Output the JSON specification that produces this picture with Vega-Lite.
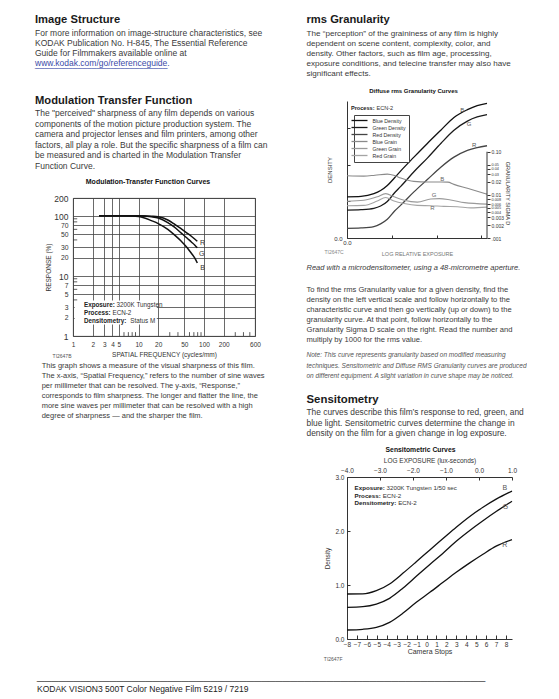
{
  "$schema": "https://vega.github.io/schema/vega-lite/v6.json",
  "background": "white",
  "padding": {"left": 35, "top": 13, "right": 0, "bottom": 0},
  "config": {
    "view": {"stroke": null},
    "font": "Liberation Sans",
    "title": {"font": "Liberation Sans", "subtitleFont": "Liberation Sans", "anchor": "start", "frame": "group", "color": "#1a1a1a", "subtitleColor": "#3a3a3a", "fontWeight": "normal"},
    "axis": {"labelFont": "Liberation Sans", "titleFont": "Liberation Sans", "labelColor": "#333", "titleColor": "#333", "domainColor": "#333", "tickColor": "#333", "titleFontWeight": "normal", "labelFontSize": 6.5, "titleFontSize": 6.5, "labelFlush": false, "labelOverlap": false, "labelBound": false, "grid": false},
    "text": {"font": "Liberation Sans"}
  },
  "datasets": {
    "mtf": [
      {"ch": "B", "f": 2.5, "r": 101}, {"ch": "B", "f": 5, "r": 101}, {"ch": "B", "f": 8, "r": 100}, {"ch": "B", "f": 10, "r": 98}, {"ch": "B", "f": 12, "r": 94}, {"ch": "B", "f": 15.7, "r": 84}, {"ch": "B", "f": 20, "r": 75}, {"ch": "B", "f": 28, "r": 60}, {"ch": "B", "f": 35, "r": 49}, {"ch": "B", "f": 45, "r": 38}, {"ch": "B", "f": 55, "r": 30}, {"ch": "B", "f": 64, "r": 24}, {"ch": "B", "f": 72, "r": 20}, {"ch": "B", "f": 79, "r": 16.5},
      {"ch": "G", "f": 2.5, "r": 101}, {"ch": "G", "f": 10, "r": 101}, {"ch": "G", "f": 15.7, "r": 97.5}, {"ch": "G", "f": 20, "r": 93}, {"ch": "G", "f": 28, "r": 78}, {"ch": "G", "f": 35, "r": 66}, {"ch": "G", "f": 45, "r": 52}, {"ch": "G", "f": 55, "r": 43}, {"ch": "G", "f": 64, "r": 37}, {"ch": "G", "f": 72, "r": 33}, {"ch": "G", "f": 79, "r": 29.5},
      {"ch": "R", "f": 2.5, "r": 101}, {"ch": "R", "f": 10, "r": 101.5}, {"ch": "R", "f": 15.7, "r": 99.5}, {"ch": "R", "f": 20, "r": 97}, {"ch": "R", "f": 28, "r": 86}, {"ch": "R", "f": 35, "r": 74}, {"ch": "R", "f": 45, "r": 61}, {"ch": "R", "f": 55, "r": 52}, {"ch": "R", "f": 64, "r": 46}, {"ch": "R", "f": 72, "r": 41.5}, {"ch": "R", "f": 79, "r": 38}
    ],
    "mtfLab": [{"f": 95, "r": 36, "t": "R"}, {"f": 92, "r": 23.6, "t": "G"}, {"f": 95, "r": 13.6, "t": "B"}],
    "mtfMinorX": [{"v": 6}, {"v": 7}, {"v": 8}, {"v": 9}, {"v": 30}, {"v": 40}, {"v": 60}, {"v": 70}, {"v": 80}, {"v": 90}, {"v": 300}, {"v": 400}, {"v": 500}],
    "mtfMinorY": [{"v": 4}, {"v": 6}, {"v": 8}, {"v": 9}, {"v": 40}, {"v": 60}, {"v": 80}, {"v": 90}],
    "mtfNote": [
      {"k": "Exposure:", "v": "3200K Tungsten", "f": 1.47, "vf": 4.62, "r": 3.28},
      {"k": "Process:", "v": "ECN-2", "f": 1.47, "vf": 4.0, "r": 2.42},
      {"k": "Densitometry:", "v": "Status M", "f": 1.47, "vf": 7.5, "r": 1.78}
    ],
    "dens": [
      {"s": "Blue Density", "e": 0, "d": 0.9}, {"s": "Blue Density", "e": 0.5, "d": 0.91}, {"s": "Blue Density", "e": 0.96, "d": 0.97}, {"s": "Blue Density", "e": 1.2, "d": 1.04}, {"s": "Blue Density", "e": 1.44, "d": 1.15}, {"s": "Blue Density", "e": 1.7, "d": 1.32}, {"s": "Blue Density", "e": 1.92, "d": 1.47}, {"s": "Blue Density", "e": 2.39, "d": 1.77}, {"s": "Blue Density", "e": 2.87, "d": 2.07}, {"s": "Blue Density", "e": 3.35, "d": 2.36}, {"s": "Blue Density", "e": 3.82, "d": 2.64}, {"s": "Blue Density", "e": 4.3, "d": 2.81}, {"s": "Blue Density", "e": 4.65, "d": 2.9}, {"s": "Blue Density", "e": 5, "d": 2.95},
      {"s": "Green Density", "e": 0, "d": 0.61}, {"s": "Green Density", "e": 0.5, "d": 0.62}, {"s": "Green Density", "e": 0.96, "d": 0.65}, {"s": "Green Density", "e": 1.2, "d": 0.7}, {"s": "Green Density", "e": 1.44, "d": 0.8}, {"s": "Green Density", "e": 1.7, "d": 0.99}, {"s": "Green Density", "e": 1.92, "d": 1.13}, {"s": "Green Density", "e": 2.39, "d": 1.45}, {"s": "Green Density", "e": 2.87, "d": 1.75}, {"s": "Green Density", "e": 3.35, "d": 2.07}, {"s": "Green Density", "e": 3.82, "d": 2.36}, {"s": "Green Density", "e": 4.3, "d": 2.56}, {"s": "Green Density", "e": 4.65, "d": 2.65}, {"s": "Green Density", "e": 5, "d": 2.7},
      {"s": "Red Density", "e": 0, "d": 0.21}, {"s": "Red Density", "e": 0.5, "d": 0.22}, {"s": "Red Density", "e": 0.96, "d": 0.25}, {"s": "Red Density", "e": 1.2, "d": 0.31}, {"s": "Red Density", "e": 1.44, "d": 0.41}, {"s": "Red Density", "e": 1.7, "d": 0.59}, {"s": "Red Density", "e": 1.92, "d": 0.72}, {"s": "Red Density", "e": 2.39, "d": 1.01}, {"s": "Red Density", "e": 2.87, "d": 1.28}, {"s": "Red Density", "e": 3.35, "d": 1.55}, {"s": "Red Density", "e": 3.82, "d": 1.77}, {"s": "Red Density", "e": 4.3, "d": 1.92}, {"s": "Red Density", "e": 4.65, "d": 1.98}, {"s": "Red Density", "e": 5, "d": 2.02}
    ],
    "grain": [
      {"s": "Blue Grain", "e": 0, "g": 0.0277}, {"s": "Blue Grain", "e": 0.6, "g": 0.0272}, {"s": "Blue Grain", "e": 1.0, "g": 0.0285}, {"s": "Blue Grain", "e": 1.44, "g": 0.0303}, {"s": "Blue Grain", "e": 1.7, "g": 0.028}, {"s": "Blue Grain", "e": 1.92, "g": 0.0245}, {"s": "Blue Grain", "e": 2.39, "g": 0.0205}, {"s": "Blue Grain", "e": 2.87, "g": 0.0198}, {"s": "Blue Grain", "e": 3.35, "g": 0.0198}, {"s": "Blue Grain", "e": 3.6, "g": 0.0197}, {"s": "Blue Grain", "e": 3.82, "g": 0.0175}, {"s": "Blue Grain", "e": 4.3, "g": 0.0142}, {"s": "Blue Grain", "e": 5, "g": 0.0104},
      {"s": "Green Grain", "e": 0, "g": 0.0071}, {"s": "Green Grain", "e": 0.6, "g": 0.0075}, {"s": "Green Grain", "e": 1.08, "g": 0.009}, {"s": "Green Grain", "e": 1.38, "g": 0.0107}, {"s": "Green Grain", "e": 1.68, "g": 0.009}, {"s": "Green Grain", "e": 2.04, "g": 0.0075}, {"s": "Green Grain", "e": 2.51, "g": 0.0068}, {"s": "Green Grain", "e": 2.99, "g": 0.008}, {"s": "Green Grain", "e": 3.3, "g": 0.0082}, {"s": "Green Grain", "e": 3.7, "g": 0.0076}, {"s": "Green Grain", "e": 4.2, "g": 0.0066}, {"s": "Green Grain", "e": 5, "g": 0.0061},
      {"s": "Red Grain", "e": 0, "g": 0.0056}, {"s": "Red Grain", "e": 0.6, "g": 0.0057}, {"s": "Red Grain", "e": 1.08, "g": 0.0072}, {"s": "Red Grain", "e": 1.38, "g": 0.0087}, {"s": "Red Grain", "e": 1.68, "g": 0.0072}, {"s": "Red Grain", "e": 2.04, "g": 0.0063}, {"s": "Red Grain", "e": 2.51, "g": 0.0057}, {"s": "Red Grain", "e": 2.99, "g": 0.0056}, {"s": "Red Grain", "e": 3.46, "g": 0.0054}, {"s": "Red Grain", "e": 3.94, "g": 0.0053}, {"s": "Red Grain", "e": 4.42, "g": 0.005}, {"s": "Red Grain", "e": 5, "g": 0.0052}
    ],
    "densLab": [{"e": 4.12, "d": 2.81, "t": "B"}, {"e": 4.36, "d": 2.5, "t": "G"}, {"e": 4.54, "d": 2.03, "t": "R"}],
    "grainLab": [{"e": 3.4, "g": 0.0239, "t": "B"}, {"e": 3.11, "g": 0.00984, "t": "G"}, {"e": 3.05, "g": 0.005, "t": "R"}],
    "granNote": [{"k": "Process:", "v": "ECN-2", "e": 0.14, "ve": 1.05, "d": 2.85}],
    "sens": [
      {"c": "B", "e": -4, "d": 0.833}, {"c": "B", "e": -3.52, "d": 0.835}, {"c": "B", "e": -3.11, "d": 0.895}, {"c": "B", "e": -2.71, "d": 1.02}, {"c": "B", "e": -2.3, "d": 1.22}, {"c": "B", "e": -1.9, "d": 1.43}, {"c": "B", "e": -1.49, "d": 1.65}, {"c": "B", "e": -1.09, "d": 1.86}, {"c": "B", "e": -0.69, "d": 2.07}, {"c": "B", "e": -0.28, "d": 2.27}, {"c": "B", "e": 0.12, "d": 2.44}, {"c": "B", "e": 0.52, "d": 2.59}, {"c": "B", "e": 1.0, "d": 2.74},
      {"c": "G", "e": -4, "d": 0.587}, {"c": "G", "e": -3.52, "d": 0.6}, {"c": "G", "e": -3.11, "d": 0.648}, {"c": "G", "e": -2.71, "d": 0.753}, {"c": "G", "e": -2.3, "d": 0.944}, {"c": "G", "e": -1.9, "d": 1.16}, {"c": "G", "e": -1.49, "d": 1.38}, {"c": "G", "e": -1.09, "d": 1.59}, {"c": "G", "e": -0.69, "d": 1.81}, {"c": "G", "e": -0.28, "d": 2.01}, {"c": "G", "e": 0.12, "d": 2.19}, {"c": "G", "e": 0.52, "d": 2.36}, {"c": "G", "e": 1.0, "d": 2.55},
      {"c": "R", "e": -4, "d": 0.167}, {"c": "R", "e": -3.52, "d": 0.18}, {"c": "R", "e": -3.11, "d": 0.216}, {"c": "R", "e": -2.71, "d": 0.309}, {"c": "R", "e": -2.3, "d": 0.48}, {"c": "R", "e": -1.9, "d": 0.68}, {"c": "R", "e": -1.49, "d": 0.864}, {"c": "R", "e": -1.09, "d": 1.05}, {"c": "R", "e": -0.69, "d": 1.235}, {"c": "R", "e": -0.28, "d": 1.41}, {"c": "R", "e": 0.12, "d": 1.57}, {"c": "R", "e": 0.52, "d": 1.72}, {"c": "R", "e": 1.0, "d": 1.84}
    ],
    "sensLab": [{"e": 0.78, "d": 2.79, "t": "B"}, {"e": 0.8, "d": 2.44, "t": "G"}, {"e": 0.78, "d": 1.74, "t": "R"}],
    "sensNote": [
      {"k": "Exposure:", "v": "3200K Tungsten 1/50 sec", "e": -3.77, "ve": -2.8, "d": 2.79},
      {"k": "Process:", "v": "ECN-2", "e": -3.77, "ve": -2.92, "d": 2.65},
      {"k": "Densitometry:", "v": "ECN-2", "e": -3.77, "ve": -2.45, "d": 2.51}
    ]
  },
  "vconcat": [
    {
      "hconcat": [
        {
          "spacing": 0,
          "vconcat": [
            {"width": 1, "height": 1, "data": {"values": []}, "mark": "point",
             "title": {"text": "Image Structure", "fontSize": 11.2, "fontWeight": "bold", "dx": -38, "offset": 3}},
            {"width": 1, "height": 1, "data": {"values": []}, "mark": "point",
             "title": {"text": ["For more information on image-structure characteristics, see", "KODAK Publication No. H-845, The Essential Reference", "Guide for Filmmakers available online at"], "fontSize": 8.5, "lineHeight": 10, "color": "#3a3a3a", "dx": -38, "offset": 0.5}},
            {"width": 1, "height": 1, "data": {"values": []}, "mark": "point",
             "title": {"text": "www.kodak.com/go/referenceguide.", "subtitle": "____________________________", "fontSize": 8.5, "color": "#3b4ba8", "subtitleColor": "#3b4ba8", "subtitleFontSize": 8.5, "subtitlePadding": -8.3, "dx": -38, "offset": 25}},
            {"width": 1, "height": 1, "data": {"values": []}, "mark": "point",
             "title": {"text": "Modulation Transfer Function", "subtitle": ["The \"perceived\" sharpness of any film depends on various", "components of the motion picture production system. The", "camera and projector lenses and film printers, among other", "factors, all play a role. But the specific sharpness of a film can", "be measured and is charted in the Modulation Transfer", "Function Curve."], "fontSize": 11.2, "fontWeight": "bold", "subtitleFontSize": 8.5, "subtitleLineHeight": 10.5, "subtitlePadding": 3, "dx": -38, "offset": 6}},
            {
              "width": 182,
              "height": 138,
              "view": {"stroke": "#333", "strokeWidth": 0.9},
              "title": {"text": "Modulation-Transfer Function Curves", "fontSize": 7, "fontWeight": "bold", "color": "#111", "anchor": "middle", "dx": -16, "offset": 9},
              "layer": [
                {
                  "data": {"values": [{}]},
                  "mark": {"type": "rect", "fill": "white"},
                  "encoding": {
                    "x": {"datum": 1.06, "type": "quantitative"},
                    "x2": {"datum": 19},
                    "y": {"datum": 1.55, "type": "quantitative"},
                    "y2": {"datum": 3.9}
                  }
                },
                {
                  "data": {"name": "mtfMinorX"},
                  "mark": {"type": "rule", "color": "#333", "strokeWidth": 0.8},
                  "encoding": {
                    "x": {"field": "v", "type": "quantitative"},
                    "y": {"datum": 1, "type": "quantitative"},
                    "y2": {"datum": 1.16}
                  }
                },
                {
                  "data": {"name": "mtfMinorY"},
                  "mark": {"type": "rule", "color": "#333", "strokeWidth": 0.8},
                  "encoding": {
                    "y": {"field": "v", "type": "quantitative"},
                    "x": {"datum": 1, "type": "quantitative"},
                    "x2": {"datum": 1.16}
                  }
                },
                {
                  "data": {"name": "mtf"},
                  "mark": {"type": "line", "color": "#111", "strokeWidth": 1.5, "interpolate": "monotone"},
                  "encoding": {
                    "x": {"field": "f", "type": "quantitative", "scale": {"type": "log", "domain": [1, 600], "nice": false}, "axis": {"values": [1, 2, 3, 4, 5, 10, 20, 50, 100, 200, 600], "grid": true, "gridColor": "#444", "gridWidth": 0.8, "tickSize": 0, "domain": false, "labelPadding": 5, "labelOverlap": false, "title": "SPATIAL FREQUENCY (cycles/mm)", "titlePadding": 4}},
                    "y": {"field": "r", "type": "quantitative", "scale": {"type": "log", "domain": [1, 200], "nice": false}, "axis": {"values": [1, 2, 3, 5, 7, 10, 20, 30, 50, 70, 100, 200], "grid": true, "gridColor": "#444", "gridWidth": 0.8, "tickSize": 0, "domain": false, "labelPadding": 5, "labelOverlap": false, "labelFontSize": {"condition": {"test": "datum.value == 1 || datum.value == 10 || datum.value == 100 || datum.value == 200", "value": 8.5}, "value": 6.8}, "title": "RESPONSE (%)", "titlePadding": 2}},
                    "detail": {"field": "ch"}
                  }
                },
                {
                  "data": {"name": "mtfLab"},
                  "mark": {"type": "text", "fontSize": 7, "color": "#333"},
                  "encoding": {
                    "x": {"field": "f", "type": "quantitative"},
                    "y": {"field": "r", "type": "quantitative"},
                    "text": {"field": "t"}
                  }
                },
                {
                  "data": {"name": "mtfNote"},
                  "mark": {"type": "text", "fontSize": 6.3, "fontWeight": "bold", "align": "left", "color": "#222"},
                  "encoding": {
                    "x": {"field": "f", "type": "quantitative"},
                    "y": {"field": "r", "type": "quantitative"},
                    "text": {"field": "k"}
                  }
                },
                {
                  "data": {"name": "mtfNote"},
                  "mark": {"type": "text", "fontSize": 6.3, "align": "left", "color": "#333"},
                  "encoding": {
                    "x": {"field": "vf", "type": "quantitative"},
                    "y": {"field": "r", "type": "quantitative"},
                    "text": {"field": "v"}
                  }
                },
                {
                  "data": {"values": [{}]},
                  "mark": {"type": "text", "fontSize": 5, "color": "#555"},
                  "encoding": {
                    "x": {"datum": 0.68, "type": "quantitative"},
                    "y": {"datum": 0.465, "type": "quantitative"},
                    "text": {"value": "TI2647B"}
                  }
                }
              ]
            },
            {"width": 1, "height": 1, "data": {"values": []}, "mark": "point",
             "title": {"text": ["This graph shows a measure of the visual sharpness of this film.", "The x-axis, “Spatial Frequency,” refers to the number of sine waves", "per millimeter that can be resolved. The y-axis, “Response,”", "corresponds to film sharpness. The longer and flatter the line, the", "more sine waves per millimeter that can be resolved with a high", "degree of sharpness — and the sharper the film."], "orient": "bottom", "fontSize": 7.5, "color": "#3a3a3a", "lineHeight": 9.9, "offset": 1, "dx": -31.3}}
          ]
        },
        {
          "spacing": 0,
          "resolve": {"scale": {"color": "independent"}, "legend": {"color": "independent"}},
          "vconcat": [
            {"width": 1, "height": 1, "data": {"values": []}, "mark": "point",
             "title": {"text": "rms Granularity", "fontSize": 11.2, "fontWeight": "bold", "dx": -40.5, "offset": 3}},
            {"width": 1, "height": 1, "data": {"values": []}, "mark": "point",
             "title": {"text": ["The “perception” of the graininess of any film is highly", "dependent on scene content, complexity, color, and", "density. Other factors, such as film age, processing,", "exposure conditions, and telecine transfer may also have", "significant effects."], "fontSize": 8.1, "lineHeight": 10, "color": "#3a3a3a", "dx": -40.5, "offset": 8.4}},
            {
              "width": 140,
              "height": 137,
              "title": {"text": "Diffuse rms Granularity Curves", "fontSize": 6, "fontWeight": "bold", "color": "#111", "anchor": "middle", "offset": 7, "dx": -3.5},
              "layer": [
                {
                  "layer": [
                    {
                      "data": {"name": "dens"},
                      "mark": {"type": "line", "strokeWidth": 1.3, "interpolate": "monotone"},
                      "encoding": {
                        "x": {"field": "e", "type": "quantitative", "scale": {"domain": [0, 5], "nice": false}, "axis": {"values": [0, 0.2, 0.4, 0.6, 0.8, 1, 1.2, 1.4, 1.6, 1.8, 2, 2.2, 2.4, 2.6, 2.8, 3, 3.2, 3.4, 3.6, 3.8, 4, 4.2, 4.4, 4.6, 4.8, 5], "labelExpr": "datum.value % 1 === 0 ? format(datum.value, '.1f') : ''", "labelOverlap": false, "tickSize": -3, "labelFontSize": 6, "labelPadding": 4, "title": "LOG RELATIVE EXPOSURE", "titleFontSize": 5.5, "titleColor": "#777", "titlePadding": 6}},
                        "y": {"field": "d", "type": "quantitative", "scale": {"domain": [0, 3], "nice": false}, "axis": {"values": [0, 0.1, 0.2, 0.3, 0.4, 0.5, 0.6, 0.7, 0.8, 0.9, 1, 1.1, 1.2, 1.3, 1.4, 1.5, 1.6, 1.7, 1.8, 1.9, 2, 2.1, 2.2, 2.3, 2.4, 2.5, 2.6, 2.7, 2.8, 2.9, 3], "labelExpr": "datum.value % 1 === 0 ? format(datum.value, '.1f') : ''", "labelOverlap": false, "tickSize": -3, "labelFontSize": 6, "labelPadding": 8, "title": "DENSITY", "titleFontSize": 6, "titlePadding": 1}},
                        "color": {"field": "s", "type": "nominal", "scale": {"domain": ["Blue Density", "Green Density", "Red Density", "Blue Grain", "Green Grain", "Red Grain"], "range": ["#111111", "#1a1a1a", "#454545", "#8a8a8a", "#9a9a9a", "#a4a4a4"]}, "legend": {"orient": "none", "legendX": 7, "legendY": 14, "title": null, "symbolType": "M-4,0H4", "symbolSize": 16, "symbolStrokeWidth": 1.3, "labelFontSize": 5.2, "labelFont": "Liberation Sans", "labelColor": "#333", "strokeColor": "#444", "fillColor": "white", "padding": 2.5, "rowPadding": -0.5, "labelOffset": 10}}
                      }
                    },
                    {
                      "data": {"name": "densLab"},
                      "mark": {"type": "text", "fontSize": 6, "color": "#555"},
                      "encoding": {
                        "x": {"field": "e", "type": "quantitative"},
                        "y": {"field": "d", "type": "quantitative"},
                        "text": {"field": "t"}
                      }
                    },
                    {
                      "data": {"name": "granNote"},
                      "mark": {"type": "text", "fontSize": 5.6, "fontWeight": "bold", "align": "left", "color": "#222"},
                      "encoding": {
                        "x": {"field": "e", "type": "quantitative"},
                        "y": {"field": "d", "type": "quantitative"},
                        "text": {"field": "k"}
                      }
                    },
                    {
                      "data": {"name": "granNote"},
                      "mark": {"type": "text", "fontSize": 5.6, "align": "left", "color": "#333"},
                      "encoding": {
                        "x": {"field": "ve", "type": "quantitative"},
                        "y": {"field": "d", "type": "quantitative"},
                        "text": {"field": "v"}
                      }
                    },
                    {
                      "data": {"values": [{}]},
                      "mark": {"type": "text", "fontSize": 5, "color": "#888"},
                      "encoding": {
                        "x": {"datum": -0.46, "type": "quantitative"},
                        "y": {"datum": -0.31, "type": "quantitative"},
                        "text": {"value": "TI2647C"}
                      }
                    }
                  ]
                },
                {
                  "layer": [
                    {
                      "data": {"name": "grain"},
                      "mark": {"type": "line", "strokeWidth": 1.1, "interpolate": "monotone"},
                      "encoding": {
                        "x": {"field": "e", "type": "quantitative"},
                        "y": {"field": "g", "type": "quantitative", "scale": {"type": "log", "domain": [0.001, 1.5], "nice": false}, "axis": {"orient": "right", "values": [0.001, 0.002, 0.003, 0.004, 0.005, 0.006, 0.008, 0.01, 0.02, 0.03, 0.04, 0.05, 0.1], "labelExpr": "datum.value == 0.001 ? '.001' : datum.value == 0.1 ? '0.10' : toString(datum.value)", "labelOverlap": false, "domain": false, "tickSize": 3, "labelFontSize": {"condition": {"test": "(datum.value >= 0.004 && datum.value <= 0.008) || (datum.value >= 0.03 && datum.value <= 0.05)", "value": 3.8}, "value": 5}, "labelPadding": 1, "title": "GRANULARITY SIGMA D", "titleFontSize": 5.5, "titlePadding": 1, "titleY": 92}},
                        "color": {"field": "s", "type": "nominal"}
                      }
                    },
                    {
                      "data": {"values": [{}]},
                      "mark": {"type": "rule", "color": "#333", "strokeWidth": 1},
                      "encoding": {
                        "x": {"datum": 5, "type": "quantitative"},
                        "y": {"datum": 0.001, "type": "quantitative"},
                        "y2": {"datum": 0.1}
                      }
                    },
                    {
                      "data": {"name": "grainLab"},
                      "mark": {"type": "text", "fontSize": 6, "color": "#666"},
                      "encoding": {
                        "x": {"field": "e", "type": "quantitative"},
                        "y": {"field": "g", "type": "quantitative"},
                        "text": {"field": "t"}
                      }
                    }
                  ]
                }
              ],
              "resolve": {"scale": {"y": "independent"}}
            },
            {"width": 1, "height": 1, "data": {"values": []}, "mark": "point",
             "title": {"text": "Read with a microdensitometer, using a 48-micrometre aperture.", "subtitle": ["To find the rms Granularity value for a given density, find the", "density on the left vertical scale and follow horizontally to the", "characteristic curve and then go vertically (up or down) to the", "granularity curve. At that point, follow horizontally to the", "Granularity Sigma D scale on the right. Read the number and", "multiply by 1000 for the rms value."], "orient": "bottom", "fontSize": 7.5, "fontStyle": "italic", "color": "#3a3a3a", "subtitleFontSize": 7.6, "subtitleLineHeight": 10, "subtitlePadding": 14, "offset": 6, "dx": -40.5}},
            {"width": 1, "height": 1, "data": {"values": []}, "mark": "point",
             "title": {"text": ["Note: This curve represents granularity based on modified measuring", "techniques. Sensitometric and Diffuse RMS Granularity curves are produced", "on different equipment. A slight variation in curve shape may be noticed."], "orient": "bottom", "fontSize": 6.5, "fontStyle": "italic", "color": "#555", "lineHeight": 10.5, "offset": 7, "dx": -40.5}},
            {"width": 1, "height": 1, "data": {"values": []}, "mark": "point",
             "title": {"text": "Sensitometry", "subtitle": ["The curves describe this film’s response to red, green, and", "blue light. Sensitometric curves determine the change in", "density on the film for a given change in log exposure."], "orient": "bottom", "fontSize": 11.4, "fontWeight": "bold", "subtitleFontSize": 8.4, "subtitleLineHeight": 10.5, "subtitlePadding": 3, "offset": 13, "dx": -40.5}},
            {"width": 1, "height": 9, "data": {"values": []}, "mark": "point"},
            {
              "width": 165,
              "height": 162,
              "title": {"text": "Sensitometric Curves", "fontSize": 6.8, "fontWeight": "bold", "color": "#111", "anchor": "middle", "dx": -9, "offset": 3},
              "layer": [
                {
                  "layer": [
                    {
                      "data": {"name": "sens"},
                      "mark": {"type": "line", "color": "#111", "strokeWidth": 1.3, "interpolate": "monotone"},
                      "encoding": {
                        "x": {"field": "e", "type": "quantitative", "scale": {"domain": [-4, 1], "nice": false}, "axis": {"orient": "top", "values": [-4, -3, -2, -1, 0, 1], "tickCount": 6, "labelExpr": "format(datum.value, '.1f')", "labelOverlap": false, "title": "LOG EXPOSURE (lux-seconds)", "tickSize": -3, "labelPadding": 7, "titlePadding": 4}},
                        "y": {"field": "d", "type": "quantitative", "scale": {"domain": [0, 3], "nice": false}, "axis": {"values": [0, 1, 2, 3], "format": ".1f", "labelOverlap": false, "title": "Density", "tickSize": -3, "labelPadding": 6, "titlePadding": 4}},
                        "detail": {"field": "c"}
                      }
                    },
                    {
                      "data": {"name": "sensLab"},
                      "mark": {"type": "text", "fontSize": 7, "color": "#555"},
                      "encoding": {
                        "x": {"field": "e", "type": "quantitative"},
                        "y": {"field": "d", "type": "quantitative"},
                        "text": {"field": "t"}
                      }
                    },
                    {
                      "data": {"name": "sensNote"},
                      "mark": {"type": "text", "fontSize": 6.2, "fontWeight": "bold", "align": "left", "color": "#222"},
                      "encoding": {
                        "x": {"field": "e", "type": "quantitative"},
                        "y": {"field": "d", "type": "quantitative"},
                        "text": {"field": "k"}
                      }
                    },
                    {
                      "data": {"name": "sensNote"},
                      "mark": {"type": "text", "fontSize": 6.2, "align": "left", "color": "#333"},
                      "encoding": {
                        "x": {"field": "ve", "type": "quantitative"},
                        "y": {"field": "d", "type": "quantitative"},
                        "text": {"field": "v"}
                      }
                    },
                    {
                      "data": {"values": [{}]},
                      "mark": {"type": "text", "fontSize": 5, "color": "#555"},
                      "encoding": {
                        "x": {"datum": -4.42, "type": "quantitative"},
                        "y": {"datum": -0.37, "type": "quantitative"},
                        "text": {"value": "TI2647F"}
                      }
                    }
                  ]
                },
                {
                  "data": {"values": [{}]},
                  "mark": {"type": "point", "opacity": 0},
                  "encoding": {
                    "x": {"datum": 0, "type": "quantitative", "scale": {"domain": [-8, 8.6], "nice": false}, "axis": {"orient": "bottom", "values": [-8, -7, -6, -5, -4, -3, -2, -1, 0, 1, 2, 3, 4, 5, 6, 7, 8], "labelOverlap": false, "title": "Camera Stops", "titleFontSize": 7, "tickSize": -4, "labelPadding": 6, "titlePadding": 0}}
                  }
                }
              ],
              "resolve": {"scale": {"x": "independent"}}
            }
          ]
        }
      ],
      "spacing": 38
    },
    {
      "width": 1,
      "height": 1,
      "data": {"values": []},
      "mark": "point",
      "title": {"text": "______________________________________________________________", "subtitle": "KODAK VISION3 500T Color Negative Film 5219 / 7219", "fontSize": 13, "color": "#555", "subtitleFontSize": 8.5, "subtitleColor": "#222", "subtitlePadding": 2.3, "dx": -36}
    }
  ],
  "spacing": 7
}
